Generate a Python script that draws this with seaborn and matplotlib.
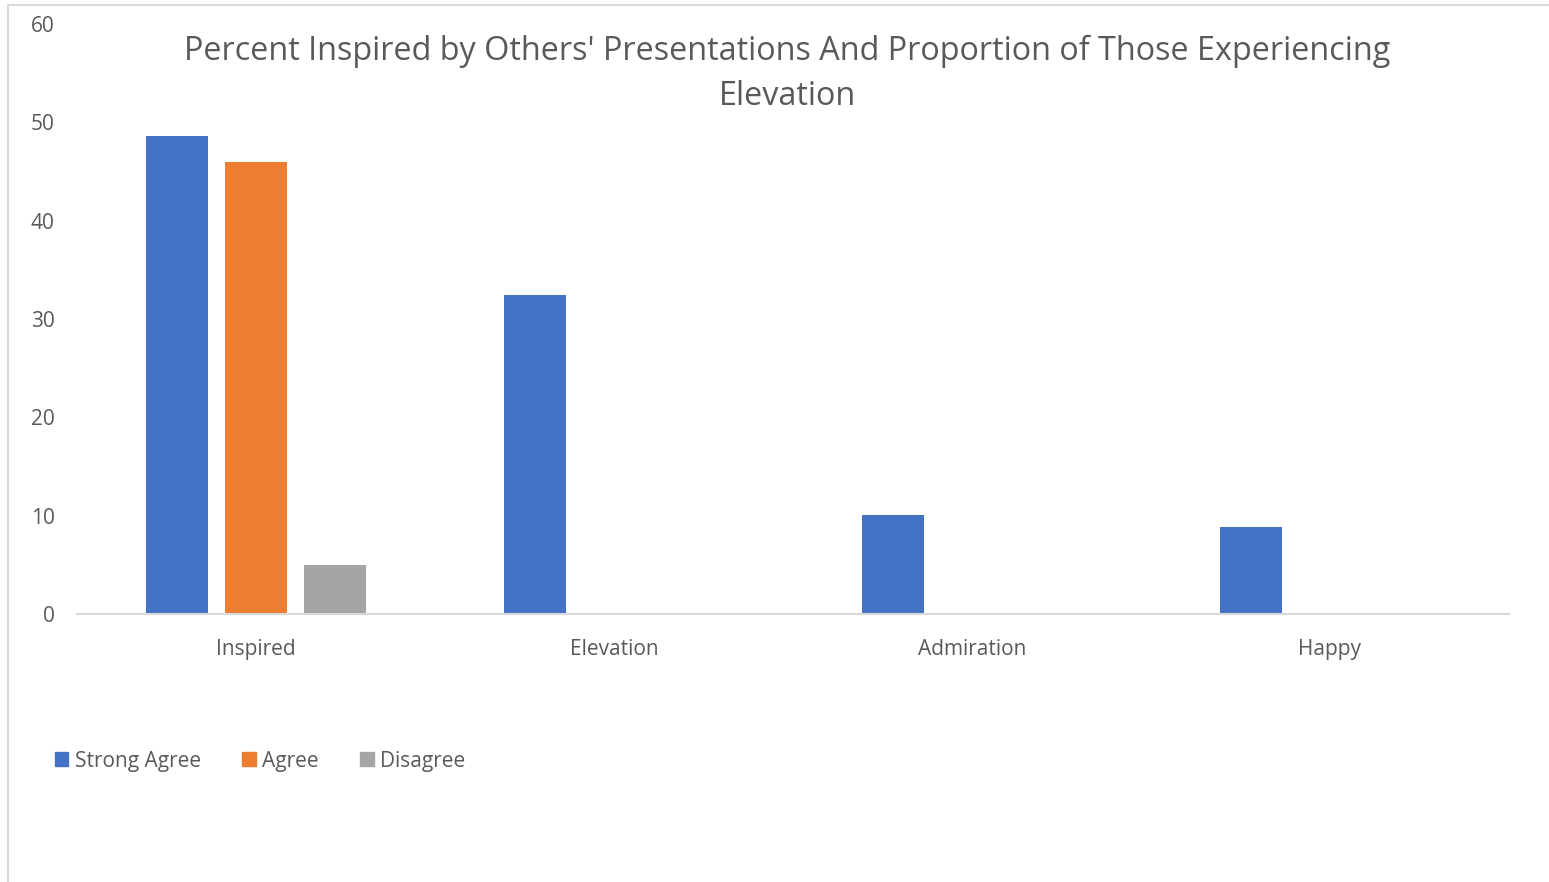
import matplotlib
matplotlib.use("Agg")
import matplotlib.pyplot as plt
import matplotlib.patches as mpatches
import numpy as np
import pandas as pd
import seaborn as sns

categories = ["Inspired", "Elevation", "Admiration", "Happy"]
series_names = ["Strong Agree", "Agree", "Disagree"]
strong_agree = [48.6, 32.4, 10.1, 8.8]
agree = [46.0, np.nan, np.nan, np.nan]
disagree = [5.0, np.nan, np.nan, np.nan]
colors = ["#4472C4", "#ED7D31", "#A5A5A5"]
title = "Percent Inspired by Others' Presentations And Proportion of Those Experiencing\nElevation"

rows = []
for name, vals in zip(series_names, [strong_agree, agree, disagree]):
    for c, v in zip(categories, vals):
        if not np.isnan(v):
            rows.append({"category": c, "series": name, "value": v})
df = pd.DataFrame(rows)

sns.set_theme(style="white")
plt.rcParams["font.family"] = ["Open Sans", "DejaVu Sans"]
text_color = "#595959"

fig = plt.figure(figsize=(15.49, 8.82), dpi=100)
ax = fig.add_axes([77 / 1549, 268 / 882, (1509 - 77) / 1549, (858 - 268) / 882])

sns.barplot(data=df, x="category", y="value", hue="series", order=categories,
            hue_order=series_names, palette=colors, width=0.6625, gap=0.215,
            saturation=1, ax=ax, legend=False, linewidth=0)

ax.set_ylim(0, 60)
ax.set_xlim(-0.5, 3.5)
ax.set_yticks(range(0, 61, 10))
ax.set_xlabel("")
ax.set_ylabel("")
for s in ["left", "right", "top"]:
    ax.spines[s].set_visible(False)
ax.spines["bottom"].set_color("#D9D9D9")
ax.spines["bottom"].set_linewidth(1.5)
ax.tick_params(axis="y", length=0, pad=16, labelsize=15, labelcolor=text_color)
ax.tick_params(axis="x", length=0, pad=18, labelsize=15, labelcolor=text_color)
ax.grid(False)

fig.text(787 / 1549, 1 - 74 / 882, title, ha="center", va="center",
         fontsize=23.3, color=text_color, linespacing=1.5)

handles = [mpatches.Patch(color=c, label=n) for c, n in zip(colors, series_names)]
fig.legend(handles=handles, loc="center left", bbox_to_anchor=(36 / 1549, 1 - 761 / 882),
           ncol=3, frameon=False, fontsize=15, labelcolor=text_color,
           handlelength=0.65, handleheight=0.65, handletextpad=0.3, columnspacing=2.0)

# outer chart border (left and top visible)
fig.add_artist(plt.Line2D([8 / 1549, 8 / 1549], [0, 1 - 5 / 882], color="#D9D9D9",
                          linewidth=1.5, transform=fig.transFigure))
fig.add_artist(plt.Line2D([8 / 1549, 1], [1 - 5 / 882, 1 - 5 / 882], color="#D9D9D9",
                          linewidth=1.5, transform=fig.transFigure))

fig.savefig("out.png", dpi=100)
